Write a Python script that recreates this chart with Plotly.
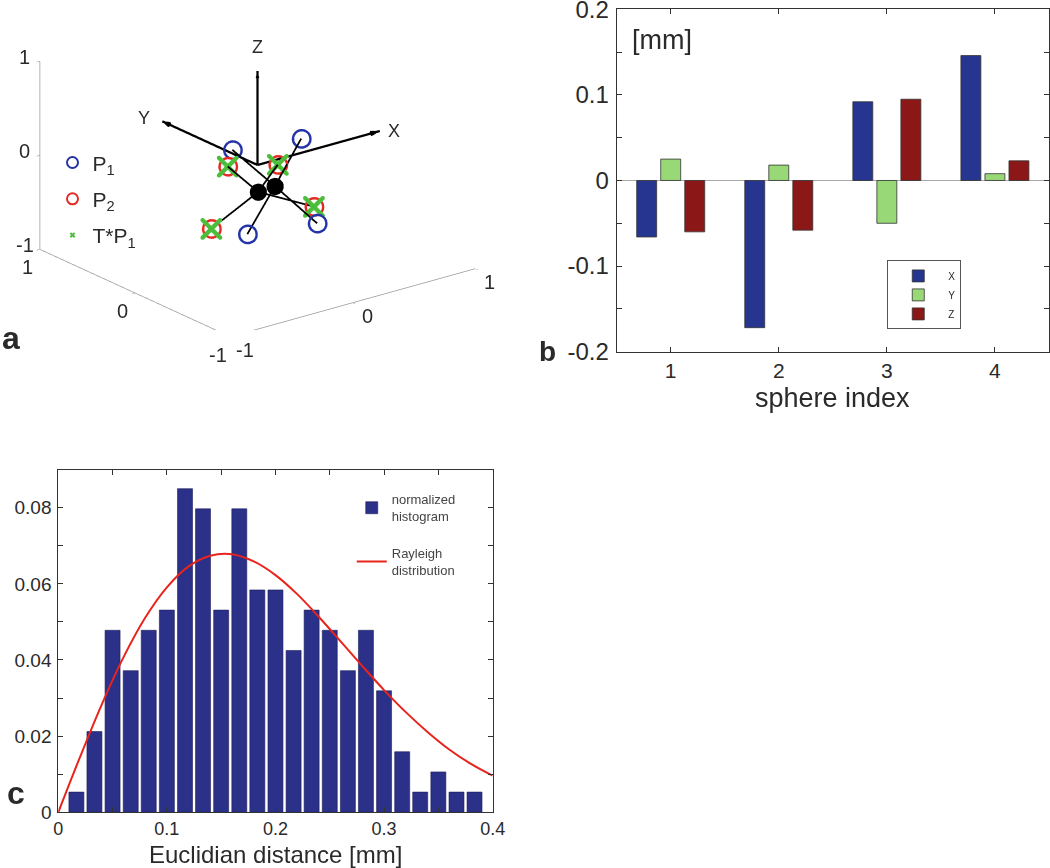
import plotly.graph_objects as go

# ---------------- Panel a: 3D marker configuration ----------------
frame_names = ["X", "Y", "Z"]
frame_x = [1.0, 0.0, 0.0]
frame_y = [0.0, 1.0, 0.0]
frame_z = [0.0, 0.0, 1.0]

# P1 (blue circles) and its hub
p1_x = [-0.084, 0.296, -0.248, 0.136]
p1_y = [0.156, -0.078, -0.212, -0.451]
p1_z = [0.119, 0.210, -0.547, -0.460]
hub1 = [0.028, -0.147, -0.167]

# P2 (red circles) and its hub
p2_x = [-0.155, 0.104, 0.167, -0.415]
p2_y = [0.114, -0.079, -0.377, -0.048]
p2_z = [-0.012, 0.003, -0.328, -0.505]
hub2 = [-0.073, -0.101, -0.213]

# T*P1 (green crosses)
tp1_x = [-0.155, 0.104, 0.167, -0.415]
tp1_y = [0.114, -0.079, -0.377, -0.048]
tp1_z = [-0.012, 0.003, -0.328, -0.505]

axis_range = [-1, 1]
ticks3d = [-1, 0, 1]
tick3d_labels = ["-1", "0", "1"]

# ---------------- Panel b: per-sphere error ----------------
sphere_index = [1, 2, 3, 4]
err_x = [-0.066, -0.172, 0.092, 0.146]
err_y = [0.025, 0.018, -0.050, 0.008]
err_z = [-0.060, -0.058, 0.095, 0.023]

# ---------------- Panel c: histogram + Rayleigh ----------------
hist_centers = [0.0167, 0.0333, 0.0500, 0.0667, 0.0833, 0.1000, 0.1167, 0.1333,
                0.1500, 0.1667, 0.1833, 0.2000, 0.2167, 0.2333, 0.2500, 0.2667,
                0.2833, 0.3000, 0.3167, 0.3333, 0.3500, 0.3667, 0.3833]
hist_values = [0.0053, 0.0212, 0.0478, 0.0372, 0.0478, 0.0531, 0.0850, 0.0797,
               0.0531, 0.0797, 0.0584, 0.0584, 0.0425, 0.0531, 0.0478, 0.0372,
               0.0478, 0.0319, 0.0159, 0.0053, 0.0106, 0.0053, 0.0053]
ray_x = [0.00, 0.02, 0.04, 0.06, 0.08, 0.10, 0.12, 0.14, 0.16, 0.18, 0.20,
         0.22, 0.24, 0.26, 0.28, 0.30, 0.32, 0.34, 0.36, 0.38, 0.40]
ray_y = [0.0, 0.0145, 0.0283, 0.0407, 0.0511, 0.0591, 0.0646, 0.0674, 0.0678,
         0.0659, 0.0623, 0.0573, 0.0513, 0.0449, 0.0384, 0.0321, 0.0263, 0.0211,
         0.0165, 0.0127, 0.0096]

FONT = "Arial, Liberation Sans, sans-serif"
TXT = "#2a2a2a"
BLUE3 = "#2433a8"
RED3 = "#e52a24"
GREEN3 = "#4cbf3a"

fig = go.Figure()

# ---- panel a traces ----
lo, hi = axis_range
fig.add_trace(go.Scatter3d(x=[lo, lo, lo, hi], y=[hi, hi, lo, lo], z=[hi, lo, lo, lo],
                           mode="lines", line=dict(color="#9a9a9a", width=1.5),
                           showlegend=False, hoverinfo="skip", scene="scene"))

fx, fy, fz = [], [], []
for i in range(3):
    fx += [0, frame_x[i], None]
    fy += [0, frame_y[i], None]
    fz += [0, frame_z[i], None]
fig.add_trace(go.Scatter3d(x=fx, y=fy, z=fz, mode="lines",
                           line=dict(color="black", width=4.5),
                           showlegend=False, hoverinfo="skip", scene="scene"))
fig.add_trace(go.Cone(x=frame_x, y=frame_y, z=frame_z, u=frame_x, v=frame_y, w=frame_z,
                      anchor="tip", sizemode="absolute", sizeref=0.05,
                      colorscale=[[0, "black"], [1, "black"]], showscale=False,
                      lighting=dict(ambient=1, diffuse=0, specular=0),
                      hoverinfo="skip", scene="scene"))


def spokes(hub, xs, ys, zs):
    lx, ly, lz = [], [], []
    for a, b, c in zip(xs, ys, zs):
        lx += [hub[0], a, None]
        ly += [hub[1], b, None]
        lz += [hub[2], c, None]
    return lx, ly, lz


for hub, xs, ys, zs in [(hub1, p1_x, p1_y, p1_z), (hub2, p2_x, p2_y, p2_z)]:
    lx, ly, lz = spokes(hub, xs, ys, zs)
    fig.add_trace(go.Scatter3d(x=lx, y=ly, z=lz, mode="lines",
                               line=dict(color="black", width=3.5),
                               showlegend=False, hoverinfo="skip", scene="scene"))

fig.add_trace(go.Scatter3d(x=[hub1[0], hub2[0]], y=[hub1[1], hub2[1]], z=[hub1[2], hub2[2]],
                           mode="markers", marker=dict(color="black", size=10, symbol="circle"),
                           showlegend=False, hoverinfo="skip", scene="scene"))

fig.add_trace(go.Scatter3d(x=p1_x, y=p1_y, z=p1_z, mode="markers", name="P<sub>1</sub>",
                           marker=dict(symbol="circle-open", size=11, color=BLUE3,
                                       line=dict(color=BLUE3, width=2)),
                           legend="legend", legendgroup="a1", scene="scene"))
fig.add_trace(go.Scatter3d(x=p2_x, y=p2_y, z=p2_z, mode="markers", name="P<sub>2</sub>",
                           marker=dict(symbol="circle-open", size=11, color=RED3,
                                       line=dict(color=RED3, width=2)),
                           legend="legend", legendgroup="a2", scene="scene"))
fig.add_trace(go.Scatter3d(x=tp1_x, y=tp1_y, z=tp1_z, mode="markers", name="T*P<sub>1</sub>",
                           marker=dict(symbol="x", size=5, color=GREEN3),
                           legend="legend", legendgroup="a3", scene="scene"))

ax3 = dict(range=axis_range, tickvals=ticks3d, showgrid=False, zeroline=False,
           showbackground=False, showline=False,
           ticks="outside", ticklen=4, tickcolor="#8a8a8a", showticklabels=False,
           title=dict(text=""), showspikes=False, autorange=False)

tick_font = dict(size=20, color=TXT, family=FONT)
lab_font = dict(size=18, color=TXT, family=FONT)
scene_ann = [
    dict(x=frame_x[0], y=frame_y[0], z=frame_z[0], text=frame_names[0], showarrow=False,
         xshift=14, yshift=0, font=lab_font),
    dict(x=frame_x[1], y=frame_y[1], z=frame_z[1], text=frame_names[1], showarrow=False,
         xshift=-18, yshift=3, font=lab_font),
    dict(x=frame_x[2], y=frame_y[2], z=frame_z[2], text=frame_names[2], showarrow=False,
         yshift=24, font=lab_font),
]
for v, t in zip(ticks3d, tick3d_labels):
    scene_ann.append(dict(x=v, y=lo, z=lo, text=t, showarrow=False, xshift=15, yshift=-13,
                          font=tick_font))
    scene_ann.append(dict(x=lo, y=v, z=lo, text=t, showarrow=False, xshift=-12, yshift=-18,
                          font=tick_font))
    scene_ann.append(dict(x=lo, y=hi, z=v, text=t, showarrow=False, xshift=-15, yshift=4,
                          font=tick_font))

fig.update_layout(scene=dict(
    domain=dict(x=[0.0, 0.49], y=[0.62, 1.0]),
    xaxis=ax3, yaxis=ax3, zaxis=ax3,
    aspectmode="manual", aspectratio=dict(x=1.88, y=1.88, z=1.22),
    camera=dict(projection=dict(type="orthographic"),
                eye=dict(x=-3.44, y=-4.42, z=2.14),
                up=dict(x=0, y=0, z=1), center=dict(x=0, y=0, z=0)),
    annotations=scene_ann,
))

# ---- panel b ----
bar_cols = {"X": "#26358f", "Y": "#98d877", "Z": "#8c1717"}
for name, vals in [("X", err_x), ("Y", err_y), ("Z", err_z)]:
    fig.add_trace(go.Bar(x=sphere_index, y=vals, name=name, xaxis="x", yaxis="y",
                         marker=dict(color=bar_cols[name], line=dict(color="#333333", width=0.8)),
                         legend="legend2"))

# ---- panel c ----
fig.add_trace(go.Bar(x=hist_centers, y=hist_values, width=0.0138, name="normalized<br>histogram",
                     xaxis="x2", yaxis="y2",
                     marker=dict(color="#2b3088", line=dict(color="#1c1f5a", width=0.6)),
                     legend="legend3", legendgroup="c1"))
fig.add_trace(go.Scatter(x=ray_x, y=ray_y, mode="lines", name="Rayleigh<br>distribution",
                         line=dict(color="#e8241c", width=2, shape="spline"),
                         xaxis="x2", yaxis="y2", legend="legend3", legendgroup="c2"))

axis_common = dict(showline=True, linecolor="#333", linewidth=1, mirror="ticks",
                   ticks="inside", ticklen=5, tickcolor="#333", showgrid=False,
                   automargin=False, ticklabeloverflow="allow")

fig.update_layout(
    width=1050, height=868,
    margin=dict(l=0, r=0, t=0, b=0, pad=0, autoexpand=False),
    paper_bgcolor="white", plot_bgcolor="white",
    font=dict(family=FONT, color=TXT),
    barmode="group", bargap=0.333, bargroupgap=0.17,
    xaxis=dict(domain=[0.5873, 0.999], anchor="y", range=[0.5, 4.5],
               tickvals=sphere_index, tickfont=dict(size=21),
               zeroline=False, **axis_common),
    yaxis=dict(domain=[0.5948, 0.9893], anchor="x", range=[-0.2001, 0.2001],
               tickvals=[-0.2, -0.15, -0.1, -0.05, 0, 0.05, 0.1, 0.15, 0.2],
               ticktext=["-0.2", " ", "-0.1", " ", "0", " ", "0.1", " ", "0.2"],
               tickfont=dict(size=24), zeroline=True, zerolinecolor="#a8a8a8",
               zerolinewidth=1, ticklabelstandoff=2, **axis_common),
    xaxis2=dict(domain=[0.0555, 0.4692], anchor="y2", range=[0, 0.4],
                tickvals=[0, 0.05, 0.1, 0.15, 0.2, 0.25, 0.3, 0.35, 0.4],
                ticktext=["0", " ", "0.1", " ", "0.2", " ", "0.3", " ", "0.4"],
                tickfont=dict(size=18),
                zeroline=False, **axis_common),
    yaxis2=dict(domain=[0.0642, 0.4585], anchor="x2", range=[0, 0.0899],
                tickvals=[0, 0.01, 0.02, 0.03, 0.04, 0.05, 0.06, 0.07, 0.08],
                ticktext=["0", " ", "0.02", " ", "0.04", " ", "0.06", " ", "0.08"],
                tickfont=dict(size=19), zeroline=False, ticklabelstandoff=2, **axis_common),
    legend=dict(x=0.05, y=0.836, xanchor="left", yanchor="top", bgcolor="rgba(0,0,0,0)",
                font=dict(size=21, color=TXT), tracegroupgap=6, itemwidth=30),
    legend2=dict(x=0.845, y=0.70, xanchor="left", yanchor="top", bgcolor="white",
                 bordercolor="#555", borderwidth=1, font=dict(size=10, color=TXT),
                 itemwidth=50, tracegroupgap=0),
    legend3=dict(x=0.335, y=0.442, xanchor="left", yanchor="top", bgcolor="rgba(0,0,0,0)",
                 font=dict(size=13, color="#444"), tracegroupgap=17, itemwidth=30),
    annotations=[
        dict(text="[mm]", x=0.62, y=0.184, xref="x", yref="y", xanchor="left", yanchor="top",
             showarrow=False, font=dict(size=27, color=TXT)),
        dict(text="sphere index", x=(0.5873 + 0.999) / 2, y=1 - 398 / 868, xref="paper",
             yref="paper", xanchor="center", yanchor="middle", showarrow=False,
             font=dict(size=27, color=TXT)),
        dict(text="Euclidian distance [mm]", x=(0.0555 + 0.4692) / 2, y=1 - 854 / 868,
             xref="paper", yref="paper", xanchor="center", yanchor="middle", showarrow=False,
             font=dict(size=24, color=TXT)),
        dict(text="<b>a</b>", x=0.0, y=1 - 358 / 868, xref="paper", yref="paper",
             xanchor="left", yanchor="bottom", showarrow=False, font=dict(size=32, color=TXT)),
        dict(text="<b>b</b>", x=537 / 1050, y=1 - 369 / 868, xref="paper", yref="paper",
             xanchor="left", yanchor="bottom", showarrow=False, font=dict(size=28, color=TXT)),
        dict(text="<b>c</b>", x=5 / 1050, y=1 - 813 / 868, xref="paper", yref="paper",
             xanchor="left", yanchor="bottom", showarrow=False, font=dict(size=32, color=TXT)),
    ],
)

fig.write_html("out.html", config={"displayModeBar": False},
               post_script="document.body.style.margin='0';document.body.style.overflow='hidden';")
